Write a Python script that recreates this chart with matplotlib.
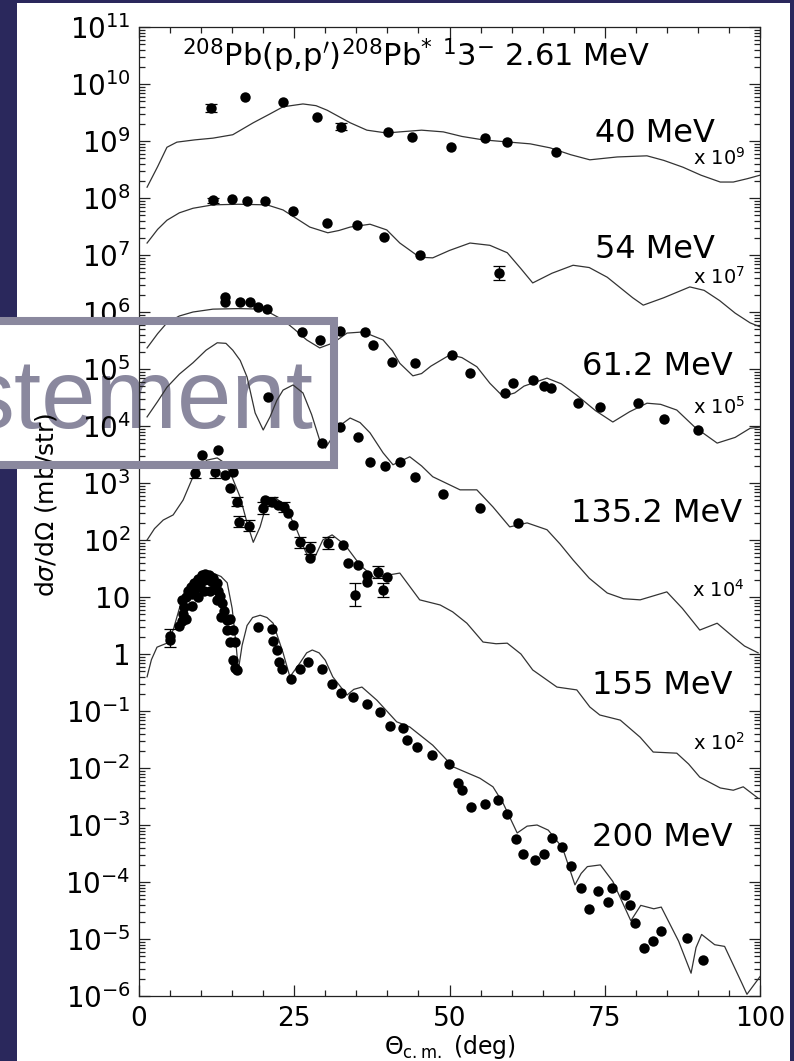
import numpy as np
import matplotlib.pyplot as plt
from matplotlib.patches import Rectangle
from matplotlib.ticker import MultipleLocator, LogLocator, NullFormatter

# ---- data (log10 of the plotted, already scaled cross section) ----

# 40 MeV  (x 10^9)
th_40 = [1.3, 3.0, 4.5, 6.1, 9.0, 11.9, 15.1, 18.4, 21.0, 23.2, 26.4, 28.5, 30.3, 34.0, 36.7, 39.9,
         42.0, 45.5, 49.0, 52.0, 55.4, 59.7, 63.0, 66.2, 69.5, 72.6, 77.0, 81.8, 84.5, 87.6, 90.5,
         93.6, 95.7, 98.0, 100.0]
cs_40 = [8.19, 8.55, 8.89, 8.98, 9.02, 9.05, 9.11, 9.32, 9.47, 9.60, 9.65, 9.62, 9.54, 9.32, 9.19, 9.14,
         9.16, 9.19, 9.16, 9.08, 9.02, 8.98, 8.95, 8.88, 8.76, 8.67, 8.72, 8.74, 8.66, 8.54, 8.40,
         8.28, 8.28, 8.34, 8.40]
x_40 = [11.6, 17.1, 23.2, 28.6, 32.5, 40.1, 44.0, 50.2, 55.7, 59.3, 67.1]
y_40 = [9.58, 9.77, 9.68, 9.42, 9.25, 9.16, 9.07, 8.89, 9.05, 8.98, 8.81]
e_40 = [0.07, 0, 0, 0, 0.06, 0, 0, 0, 0, 0, 0]

# 54 MeV  (x 10^7)
th_54 = [1.3, 3.0, 4.5, 6.5, 8.7, 11.9, 16.0, 20.6, 23.2, 25.5, 27.5, 30.4, 32.2, 34.0, 37.2, 39.9,
         42.0, 45.2, 47.3, 50.0, 53.3, 56.5, 59.3, 61.5, 63.4, 66.5, 69.9, 72.5, 75.4, 79.5, 81.2,
         84.5, 88.7, 91.0, 93.5, 96.0, 98.4, 100.0]
cs_54 = [7.21, 7.45, 7.61, 7.74, 7.82, 7.88, 7.89, 7.88, 7.79, 7.63, 7.49, 7.39, 7.43, 7.49, 7.54, 7.44,
         7.21, 6.96, 6.95, 7.08, 7.21, 7.17, 7.04, 6.76, 6.51, 6.68, 6.82, 6.78, 6.61, 6.25, 6.12,
         6.25, 6.44, 6.38, 6.20, 5.98, 5.81, 5.74]
x_54 = [11.9, 15.0, 17.4, 20.3, 24.8, 30.3, 35.1, 39.5, 45.2, 58.0]
y_54 = [7.96, 7.98, 7.95, 7.95, 7.77, 7.56, 7.53, 7.32, 7.00, 6.68]
e_54 = [0.04, 0, 0, 0, 0, 0, 0, 0, 0, 0.12]

# 61.2 MeV  (x 10^5)
th_61 = [1.3, 3.0, 4.5, 6.5, 8.7, 11.9, 16.0, 20.0, 23.2, 25.0, 27.0, 29.1, 31.3, 33.5, 36.1, 39.3,
         40.8, 42.0, 44.1, 45.5, 47.0, 50.1, 52.0, 54.4, 56.5, 58.6, 60.5, 62.0, 65.7, 68.0, 70.5,
         73.5, 76.3, 79.0, 81.8, 84.0, 86.6, 89.5, 93.1, 96.0, 98.4, 100.0]
cs_61 = [5.37, 5.62, 5.81, 5.93, 6.00, 6.05, 6.06, 6.05, 5.86, 5.70, 5.51, 5.37, 5.46, 5.63, 5.65, 5.51,
         5.32, 5.10, 4.88, 4.92, 5.05, 5.25, 5.20, 5.04, 4.75, 4.52, 4.58, 4.70, 4.84, 4.74, 4.54,
         4.27, 4.07, 4.25, 4.40, 4.38, 4.28, 3.98, 3.70, 3.80, 3.96, 3.98]
x_61 = [13.8, 13.8, 16.3, 17.9, 19.2, 20.6, 26.2, 29.1, 32.4, 36.4, 37.7, 40.7, 44.4, 50.4, 53.3,
        58.9, 60.2, 63.4, 65.2, 66.3, 70.7, 74.2, 80.4, 84.5, 90.0]
y_61 = [6.26, 6.18, 6.18, 6.18, 6.09, 6.05, 5.65, 5.51, 5.67, 5.65, 5.42, 5.12, 5.11, 5.25, 4.93,
        4.58, 4.75, 4.81, 4.70, 4.67, 4.40, 4.33, 4.40, 4.12, 3.93]

# 135.2 MeV  (x 10^4)
th_135 = [1.3, 3.0, 4.5, 6.5, 8.7, 10.8, 12.6, 14.0, 15.1, 16.3, 17.4, 18.7, 20.0, 21.1, 22.2, 23.2,
          24.8, 26.4, 27.8, 29.1, 30.0, 31.0, 32.0, 34.0, 35.6, 37.2, 39.3, 40.9, 43.6, 45.5, 47.3,
          51.7, 54.4, 57.0, 59.7, 62.5, 65.7, 67.8, 69.9, 72.5, 75.4, 78.0, 80.7, 85.0, 87.5, 90.3,
          93.1, 95.7, 97.5, 99.7]
cs_135 = [4.16, 4.43, 4.68, 4.91, 5.11, 5.33, 5.46, 5.45, 5.33, 5.15, 4.86, 4.23, 3.93, 4.16, 4.45, 4.63,
          4.72, 4.58, 4.20, 3.75, 3.61, 3.78, 3.98, 4.14, 4.06, 3.88, 3.53, 3.32, 3.46, 3.30, 3.11,
          2.88, 2.88, 2.58, 2.23, 2.30, 2.18, 1.93, 1.65, 1.33, 1.07, 0.97, 0.95, 1.09, 0.80, 0.42,
          0.54, 0.30, 0.14, 0.02]
x_135 = [20.8, 29.5, 32.4, 35.3, 37.2, 39.6, 42.0, 44.4, 49.0, 54.9, 61.0]
y_135 = [4.51, 3.70, 3.98, 3.81, 3.37, 3.30, 3.37, 3.11, 2.81, 2.56, 2.30]

# 155 MeV  (x 10^2)
th_155 = [1.3, 2.5, 3.9, 5.5, 7.1, 8.7, 10.9, 12.6, 13.8, 14.7, 16.3, 17.4, 18.4, 19.5, 20.6, 21.9,
          23.5, 25.4, 26.8, 27.9, 29.6, 31.1, 33.2, 35.6, 38.0, 40.4, 42.0, 43.5, 45.2, 48.5, 50.5,
          52.8, 55.4, 57.5, 59.3, 61.5, 63.4, 67.3, 70.5, 72.6, 74.2, 77.5, 80.7, 82.8, 86.6, 88.5,
          90.3, 93.6, 95.7, 97.3, 99.7]
cs_155 = [2.00, 2.20, 2.35, 2.44, 2.70, 3.11, 3.40, 3.44, 3.35, 3.18, 2.75, 2.30, 1.96, 2.23, 2.65, 2.75,
          2.60, 2.18, 1.80, 1.60, 2.00, 2.09, 1.91, 1.56, 1.33, 1.39, 1.42, 1.20, 0.95, 0.86, 0.74,
          0.54, 0.21, 0.18, 0.19, 0.00, -0.28, -0.58, -0.63, -0.93, -1.07, -1.16, -1.46, -1.72,
          -1.74, -1.93, -2.16, -2.35, -2.39, -2.33, -2.53]
x_155 = [9.0, 10.1, 12.7, 12.2, 13.8, 15.1, 14.7, 15.8, 16.1, 17.7, 20.0, 20.3, 21.4, 22.4, 23.3,
         24.0, 24.8, 25.9, 27.5, 27.5, 30.4, 32.9, 33.7, 35.3, 36.7, 38.5, 39.9, 34.8, 36.7, 39.3]
y_155 = [3.18, 3.49, 3.58, 3.19, 3.14, 3.19, 2.91, 2.67, 2.32, 2.25, 2.56, 2.70, 2.67, 2.61, 2.58,
         2.47, 2.26, 1.96, 1.86, 1.68, 1.95, 1.91, 1.60, 1.56, 1.39, 1.44, 1.35, 1.04, 1.26, 1.12]
e_155 = [0.10, 0, 0, 0.10, 0, 0, 0, 0.08, 0.10, 0.10, 0.10, 0, 0.08, 0, 0.08,
         0, 0, 0.10, 0.10, 0, 0.10, 0, 0, 0, 0, 0.10, 0, 0.20, 0, 0.12]

# 200 MeV
th_200 = [1.3, 2.0, 2.9, 4.5, 5.5, 6.9, 8.7, 10.3, 11.1, 11.9, 13.2, 14.2, 15.0, 15.6, 16.0, 16.6,
          17.4, 18.3, 19.5, 20.6, 21.6, 23.2, 24.3, 25.9, 27.0, 27.9, 29.0, 30.0, 31.2, 33.5, 34.6,
          35.9, 38.3, 41.5, 43.6, 47.3, 50.6, 54.9, 57.0, 58.6, 60.9, 62.5, 64.1, 65.9, 68.2, 70.2,
          71.2, 72.2, 74.3, 76.3, 79.2, 80.8, 82.9, 84.1, 86.9, 88.9, 89.7, 90.6, 92.7, 94.3, 97.1,
          97.9, 100.0]
cs_200 = [-0.40, -0.10, 0.12, 0.19, 0.42, 0.95, 1.30, 1.42, 1.44, 1.42, 1.36, 1.25, 0.80, 0.20, -0.28,
          0.15, 0.50, 0.64, 0.68, 0.64, 0.54, 0.02, -0.40, -0.16, 0.02, 0.07, 0.02, -0.11, -0.40,
          -0.72, -0.62, -0.58, -0.81, -1.19, -1.28, -1.60, -1.98, -2.18, -2.33, -2.61, -3.14, -3.02,
          -3.00, -3.09, -3.40, -4.05, -3.85, -3.73, -3.70, -3.99, -4.68, -4.41, -4.47, -4.44, -5.04,
          -5.60, -5.15, -4.92, -5.10, -5.13, -5.78, -5.97, -5.66]
x_200 = [5.0, 5.0, 6.5, 6.9, 7.1, 7.3, 7.0, 7.6, 7.5, 7.9, 8.3, 8.5, 8.6, 8.9, 9.2, 9.5, 9.5, 9.8,
         10.1, 10.4, 10.5, 10.7, 11.0, 11.3, 11.5, 11.6, 11.9, 12.2, 12.5, 12.5, 12.8, 13.1, 13.4,
         13.2, 13.7, 14.2, 14.7, 14.2, 15.1, 14.7, 15.5, 15.1, 15.5, 15.8,
         19.2, 21.4, 21.6, 22.2, 22.5, 23.0, 24.5, 25.9, 27.2, 29.5, 31.1, 32.5, 34.5, 36.7, 38.8,
         40.4, 42.5, 43.2, 44.8, 47.2, 49.9, 51.4, 52.0, 53.5, 55.7, 57.8, 59.3, 60.7, 61.9, 63.8,
         65.2, 66.5, 68.1, 69.6, 71.2, 72.5, 73.9, 75.5, 76.2, 78.2, 79.0, 79.8, 81.4, 82.7, 84.1,
         88.3, 90.9]
y_200 = [0.25, 0.32, 0.50, 0.58, 0.70, 0.82, 0.95, 1.00, 0.62, 1.10, 1.18, 0.85, 1.05, 1.25, 1.15,
         1.32, 1.00, 1.22, 1.38, 1.30, 1.10, 1.40, 1.32, 1.38, 1.10, 1.28, 1.33, 1.20, 1.25, 0.95,
         1.10, 1.02, 0.90, 0.65, 0.75, 0.60, 0.62, 0.42, 0.42, 0.21, 0.21, -0.10, -0.25, -0.28,
         0.47, 0.44, 0.23, 0.07, -0.14, -0.26, -0.44, -0.26, -0.14, -0.26, -0.53, -0.68, -0.75,
         -0.88, -1.02, -1.26, -1.30, -1.51, -1.63, -1.77, -1.93, -2.26, -2.39, -2.68, -2.63, -2.56,
         -2.81, -3.24, -3.50, -3.62, -3.50, -3.23, -3.39, -3.72, -4.10, -4.47, -4.15, -4.35, -4.10,
         -4.23, -4.40, -4.72, -5.15, -5.04, -4.86, -4.98, -5.36]
x_200_err = [5.0]
y_200_err = [0.28]
e_200_err = [0.16]

energy_labels = ['40 MeV', '54 MeV', '61.2 MeV', '135.2 MeV', '155 MeV', '200 MeV']
scale_labels = [r'x 10$^{9}$', r'x 10$^{7}$', r'x 10$^{5}$', r'x 10$^{4}$', r'x 10$^{2}$']
y_exps = list(range(-6, 12))
y_ticklabels = [r'$10^{%d}$' % k for k in range(-6, 0)] + ['1', '10'] + \
               [r'$10^{%d}$' % k for k in range(2, 12)]

NAVY = '#2a285c'
GREY = '#8a889e'
W, H = 794, 1061


def p(px, py):
    # pixel position (from top left) -> figure fraction
    return px / W, 1 - py / H


def box(x0, y0, x1, y1, **kw):
    fx0, fy0 = p(x0, y1)
    r = Rectangle((fx0, fy0), (x1 - x0) / W, (y1 - y0) / H, transform=fig.transFigure, **kw)
    fig.patches.append(r)
    return r


def lin(v):
    return np.power(10.0, np.asarray(v, dtype=float))


def errbars(xs, ys, es):
    ys_a = np.asarray(ys, dtype=float)
    es_a = np.asarray(es, dtype=float)
    m = es_a > 0
    lo = lin(ys_a[m]) - lin(ys_a[m] - es_a[m])
    hi = lin(ys_a[m] + es_a[m]) - lin(ys_a[m])
    ax.errorbar(np.asarray(xs)[m], lin(ys_a[m]), yerr=[lo, hi], fmt='none',
                ecolor='black', elinewidth=0.9, capsize=4, capthick=0.9)


fig = plt.figure(figsize=(W / 100, H / 100), dpi=100, facecolor='white')
ax = fig.add_axes([139 / W, 1 - 996 / H, (760 - 139) / W, (996 - 27) / H])
ax.set_facecolor('none')

curves = [(th_40, cs_40), (th_54, cs_54), (th_61, cs_61), (th_135, cs_135), (th_155, cs_155), (th_200, cs_200)]
for th, cs in curves:
    ax.plot(th, lin(cs), color='#333333', lw=0.9)

points = [(x_40, y_40, e_40), (x_54, y_54, e_54), (x_61, y_61, None), (x_135, y_135, None),
          (x_155, y_155, e_155), (x_200, y_200, None)]
for xs, ys, es in points:
    if es is not None:
        errbars(xs, ys, es)
    ax.plot(xs, lin(ys), 'o', color='black', ms=7.5, mew=0)
errbars(x_200_err, y_200_err, e_200_err)

ax.set_xlim(0, 100)
ax.set_yscale('log')
ax.set_ylim(1e-6, 1e11)
ax.xaxis.set_major_locator(MultipleLocator(25))
ax.xaxis.set_minor_locator(MultipleLocator(5))
ax.set_yticks(lin(y_exps), y_ticklabels)
ax.yaxis.set_minor_locator(LogLocator(base=10, subs=np.arange(2, 10), numticks=100))
ax.yaxis.set_minor_formatter(NullFormatter())
ax.tick_params(which='both', direction='in', top=True, right=True, width=0.9, color='#222222')
ax.tick_params(which='major', length=8)
ax.tick_params(which='minor', length=4)
ax.tick_params(axis='y', labelsize=20, pad=6)
ax.tick_params(axis='x', labelsize=19, pad=7)
for s in ax.spines.values():
    s.set_linewidth(0.9)
    s.set_color('#222222')

fig.text(*p(182, 66), r'$^{208}$Pb(p,p$^{\prime}$)$^{208}$Pb$^{*}$ $^{1}$3$^{-}$ 2.61 MeV',
         fontsize=22, va='baseline', ha='left')

label_pos = [(715, 133), (715, 250), (733, 366), (742, 514), (733, 685), (733, 838)]
for s, (px, py) in zip(energy_labels, label_pos):
    fig.text(*p(px, py), s, fontsize=23, ha='right', va='center')
scale_pos = [(745, 158), (745, 277), (745, 407), (745, 590), (745, 743)]
for s, (px, py) in zip(scale_labels, scale_pos):
    fig.text(*p(px, py), s, fontsize=14, ha='right', va='center')

fig.text(*p(46, 505), r'd$\sigma$/d$\Omega$ (mb/str)', rotation=90, fontsize=18, ha='center', va='center')
fig.text(*p(450, 1047), r'$\Theta_{\rm c.m.}$ (deg)', fontsize=17, ha='center', va='center')

# frame around the slide
box(0, 0, 17, 321, facecolor=NAVY, edgecolor='none', zorder=20)
box(0, 465, 17, H, facecolor=NAVY, edgecolor='none', zorder=20)
box(0, 0, W, 3, facecolor=NAVY, edgecolor='none', zorder=20)
box(790, 0, W, H, facecolor=NAVY, edgecolor='none', zorder=20)

# overlaid caption box
fig.text(*p(313, 428), 'stement', fontsize=70.5, family='Liberation Sans', color=GREY,
         ha='right', va='baseline', zorder=-1)
box(-30, 321, 334, 465, facecolor='none', edgecolor=GREY, lw=5.8, zorder=25)

fig.savefig('out.png', dpi=100, facecolor='white')
